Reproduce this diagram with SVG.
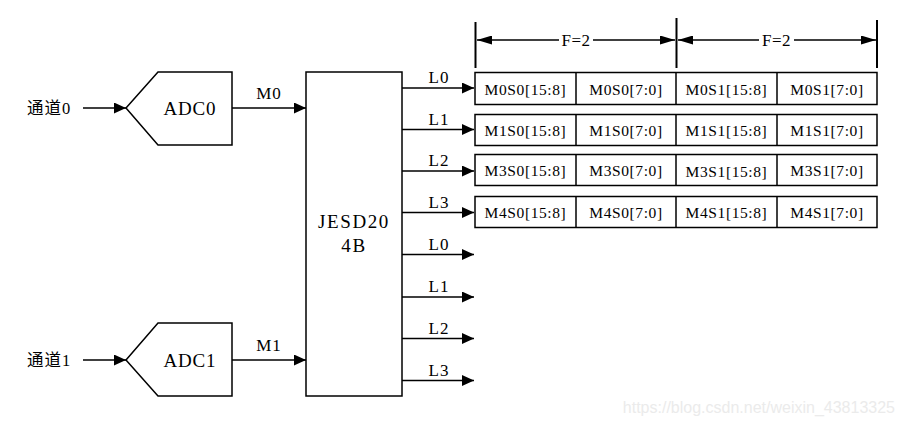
<svg xmlns="http://www.w3.org/2000/svg" width="905" height="425" viewBox="0 0 905 425">
<defs>
<marker id="ah" markerWidth="13" markerHeight="11" refX="12" refY="5.5" orient="auto" markerUnits="userSpaceOnUse"><path d="M0,0 L12,5.5 L0,11 z" fill="#000"/></marker>
<marker id="dh" markerWidth="16" markerHeight="9" refX="15" refY="4.5" orient="auto-start-reverse" markerUnits="userSpaceOnUse"><path d="M0,0 L15,4.5 L0,9 z" fill="#000"/></marker>
</defs>
<style>
.s{fill:#fff;stroke:#000;stroke-width:1.5}
.c{stroke:#000;stroke-width:1.5;fill:none}
.t{font-family:"Liberation Serif","Noto Sans CJK SC",serif;fill:#000}
.cell{font-size:15.5px;letter-spacing:0.6px;text-anchor:middle}
.lb{font-size:17px;letter-spacing:1px;text-anchor:middle}
</style>
<rect width="905" height="425" fill="#fff"/>
<g id="in0"><text class="t" x="27" y="114" font-size="16.5" letter-spacing="1">通道0</text></g>
<g id="in1"><text class="t" x="27" y="366" font-size="16.5" letter-spacing="1">通道1</text></g>
<g id="adc0"><polygon class="s" points="126,108 158,72 232,72 232,145 158,145"/><text class="t" x="190" y="114.5" font-size="19" letter-spacing="0.8" text-anchor="middle">ADC0</text></g>
<g id="adc1"><polygon class="s" points="126,360 158,323 232,323 232,396 158,396"/><text class="t" x="190" y="366.5" font-size="19" letter-spacing="0.8" text-anchor="middle">ADC1</text></g>
<g id="jesd"><rect class="s" x="306" y="72" width="96" height="324"/><text class="t" x="354" y="228" font-size="19" letter-spacing="1.6" text-anchor="middle">JESD20</text><text class="t" x="354" y="252" font-size="19" letter-spacing="1.6" text-anchor="middle">4B</text></g>
<g id="connectors">
<line class="c" x1="83" y1="108" x2="126" y2="108" marker-end="url(#ah)"/>
<line class="c" x1="83" y1="360" x2="126" y2="360" marker-end="url(#ah)"/>
<line class="c" x1="232" y1="108" x2="306" y2="108" marker-end="url(#ah)"/>
<line class="c" x1="232" y1="360" x2="306" y2="360" marker-end="url(#ah)"/>
<text class="t lb" x="269" y="98.5">M0</text>
<text class="t lb" x="269" y="350.5">M1</text>
<line class="c" x1="402" y1="88" x2="474" y2="88" marker-end="url(#ah)"/>
<line class="c" x1="402" y1="129.5" x2="474" y2="129.5" marker-end="url(#ah)"/>
<line class="c" x1="402" y1="171" x2="474" y2="171" marker-end="url(#ah)"/>
<line class="c" x1="402" y1="212.5" x2="474" y2="212.5" marker-end="url(#ah)"/>
<line class="c" x1="402" y1="254.5" x2="474" y2="254.5" marker-end="url(#ah)"/>
<line class="c" x1="402" y1="297" x2="474" y2="297" marker-end="url(#ah)"/>
<line class="c" x1="402" y1="338.5" x2="474" y2="338.5" marker-end="url(#ah)"/>
<line class="c" x1="402" y1="380.5" x2="474" y2="380.5" marker-end="url(#ah)"/>
<text class="t lb" x="439" y="82.5">L0</text>
<text class="t lb" x="439" y="124.5">L1</text>
<text class="t lb" x="439" y="165.5">L2</text>
<text class="t lb" x="439" y="207.5">L3</text>
<text class="t lb" x="439" y="249.5">L0</text>
<text class="t lb" x="439" y="291.5">L1</text>
<text class="t lb" x="439" y="333.5">L2</text>
<text class="t lb" x="439" y="375.5">L3</text>
</g>
<g id="dim">
<line x1="475.5" y1="22" x2="475.5" y2="68" stroke="#000" stroke-width="2"/>
<line x1="676.5" y1="18" x2="676.5" y2="68" stroke="#000" stroke-width="2"/>
<line x1="877" y1="20" x2="877" y2="68" stroke="#000" stroke-width="2"/>
<line class="c" x1="559" y1="40" x2="477" y2="40" marker-end="url(#dh)"/>
<line class="c" x1="593" y1="40" x2="675" y2="40" marker-end="url(#dh)"/>
<line class="c" x1="759" y1="40" x2="678" y2="40" marker-end="url(#dh)"/>
<line class="c" x1="794" y1="40" x2="876" y2="40" marker-end="url(#dh)"/>
<text class="t" x="576" y="46" font-size="17" letter-spacing="0.5" text-anchor="middle">F=2</text>
<text class="t" x="776.5" y="46" font-size="17" letter-spacing="0.5" text-anchor="middle">F=2</text>
</g>
<g id="row0">
<rect class="s" x="475" y="72.5" width="402" height="32"/>
<line class="c" x1="576" y1="72.5" x2="576" y2="104.5"/><line class="c" x1="676" y1="72.5" x2="676" y2="104.5"/><line class="c" x1="777" y1="72.5" x2="777" y2="104.5"/>
<text class="t cell" x="525.5" y="95">M0S0[15:8]</text><text class="t cell" x="626" y="95">M0S0[7:0]</text><text class="t cell" x="726.5" y="95">M0S1[15:8]</text><text class="t cell" x="827" y="95">M0S1[7:0]</text>
</g>
<g id="row1">
<rect class="s" x="475" y="114.5" width="402" height="31"/>
<line class="c" x1="576" y1="114.5" x2="576" y2="145.5"/><line class="c" x1="676" y1="114.5" x2="676" y2="145.5"/><line class="c" x1="777" y1="114.5" x2="777" y2="145.5"/>
<text class="t cell" x="525.5" y="136">M1S0[15:8]</text><text class="t cell" x="626" y="136">M1S0[7:0]</text><text class="t cell" x="726.5" y="136">M1S1[15:8]</text><text class="t cell" x="827" y="136">M1S1[7:0]</text>
</g>
<g id="row2">
<rect class="s" x="475" y="154.5" width="402" height="31"/>
<line class="c" x1="576" y1="154.5" x2="576" y2="185.5"/><line class="c" x1="676" y1="154.5" x2="676" y2="185.5"/><line class="c" x1="777" y1="154.5" x2="777" y2="185.5"/>
<text class="t cell" x="525.5" y="176">M3S0[15:8]</text><text class="t cell" x="626" y="176">M3S0[7:0]</text><text class="t cell" x="726.5" y="177">M3S1[15:8]</text><text class="t cell" x="827" y="176">M3S1[7:0]</text>
</g>
<g id="row3">
<rect class="s" x="475" y="196.5" width="402" height="31"/>
<line class="c" x1="576" y1="196.5" x2="576" y2="227.5"/><line class="c" x1="676" y1="196.5" x2="676" y2="227.5"/><line class="c" x1="777" y1="196.5" x2="777" y2="227.5"/>
<text class="t cell" x="525.5" y="218">M4S0[15:8]</text><text class="t cell" x="626" y="218">M4S0[7:0]</text><text class="t cell" x="726.5" y="218">M4S1[15:8]</text><text class="t cell" x="827" y="218">M4S1[7:0]</text>
</g>
<text x="895" y="413" font-family="Liberation Sans, Arial, sans-serif" font-size="16" fill="#ebebeb" text-anchor="end">https://blog.csdn.net/weixin_43813325</text>
</svg>
